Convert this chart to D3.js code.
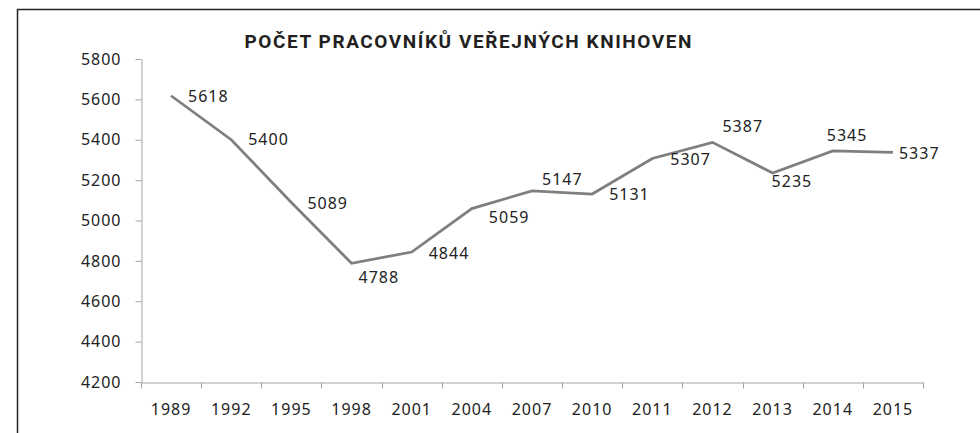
<!DOCTYPE html>
<html>
<head>
<meta charset="utf-8">
<script src="https://cdn.jsdelivr.net/npm/d3@7"></script>
<style>
    body { margin: 0; background: #fff; }
    svg { display: block; }
    .num { font-family: "Noto Sans", sans-serif; font-size: 16px; letter-spacing: 1px; fill: #222; }
</style>
</head>
<body>
<div id="chart"></div>
<script>
const title = "POČET PRACOVNÍKŮ VEŘEJNÝCH KNIHOVEN"
const years = ["1989", "1992", "1995", "1998", "2001", "2004", "2007", "2010", "2011", "2012", "2013", "2014", "2015"]
const workers = [5618, 5400, 5089, 4788, 4844, 5059, 5147, 5131, 5307, 5387, 5235, 5345, 5337]
const yTicks = [4200, 4400, 4600, 4800, 5000, 5200, 5400, 5600, 5800]
// where each value label sits relative to its point [dx, dy]
const labelOffsets = [[17, 6], [17, 5], [16, 6.5], [7, 20], [17, 7], [17, 14], [10, -6],
    [17, 6], [18, 6], [10, -10], [-1, 14], [-6, -10], [6, 6.5]]

const width = 980, height = 433
const margin = { top: 59, right: 57, bottom: 51, left: 141 }

const svg = d3.select("#chart")
    .append("svg")
    .attr("width", width)
    .attr("height", height)

/* FRAME */
svg.append("path")
    .attr("d", `M17.5,${height} V9.5 H${width}`)
    .attr("fill", "none")
    .attr("stroke", "#222")
    .attr("stroke-width", 1.5)

/* TITLE */
svg.append("text")
    .attr("x", 468)
    .attr("y", 47.5)
    .attr("text-anchor", "middle")
    .attr("textLength", 447)
    .attr("lengthAdjust", "spacing")
    .style("font-family", "Roboto, sans-serif")
    .style("font-weight", "bold")
    .style("font-size", "19px")
    .style("fill", "#231f20")
    .text(title)

const x = d3.scaleBand()
    .domain(years)
    .range([margin.left, width - margin.right])
    .padding(0)

const y = d3.scaleLinear()
    .domain([4200, 5800])
    .range([height - margin.bottom, margin.top])

/* Y AXIS */
const yAxis = svg.append("g")
    .attr("transform", `translate(${margin.left + 0.5}, 0)`)
    .call(d3.axisLeft(y).tickValues(yTicks).tickFormat(d3.format("d"))
        .tickSize(6).tickSizeOuter(0).tickPadding(14))
yAxis.select(".domain").attr("stroke", "#a6a6a6")
yAxis.selectAll(".tick line").attr("stroke", "#a6a6a6")
yAxis.selectAll("text").attr("class", "num").attr("font-size", null).attr("font-family", null)

/* X AXIS */
const xBase = height - margin.bottom + 0.5
const xAxis = svg.append("g")
    .attr("transform", `translate(0, ${xBase})`)
    .call(d3.axisBottom(x).tickSize(0).tickSizeOuter(0).tickPadding(21))
xAxis.select(".domain").attr("stroke", "#a6a6a6")
xAxis.selectAll("text").attr("class", "num").attr("font-size", null).attr("font-family", null)

// tick marks between categories
xAxis.selectAll(".cat-tick")
    .data(years.concat(["end"]))
    .enter()
    .append("line")
    .attr("class", "cat-tick")
    .attr("x1", (d, i) => Math.round(margin.left + i * x.step()) + 0.5)
    .attr("x2", (d, i) => Math.round(margin.left + i * x.step()) + 0.5)
    .attr("y1", 0)
    .attr("y2", 6)
    .attr("stroke", "#a6a6a6")

/* LINE */
const cx = d => x(d.year) + x.bandwidth() / 2
const data = years.map((year, i) => ({ year, value: workers[i], off: labelOffsets[i] }))

svg.append("path")
    .datum(data)
    .attr("fill", "none")
    .attr("stroke", "#7f7f7f")
    .attr("stroke-width", 2.75)
    .attr("stroke-linejoin", "miter")
    .attr("d", d3.line().x(cx).y(d => y(d.value)))

/* VALUE LABELS */
svg.selectAll(".value-label")
    .data(data)
    .enter()
    .append("text")
    .attr("class", "num value-label")
    .attr("x", d => cx(d) + d.off[0])
    .attr("y", d => y(d.value) + d.off[1])
    .text(d => d.value)
</script>
</body>
</html>
